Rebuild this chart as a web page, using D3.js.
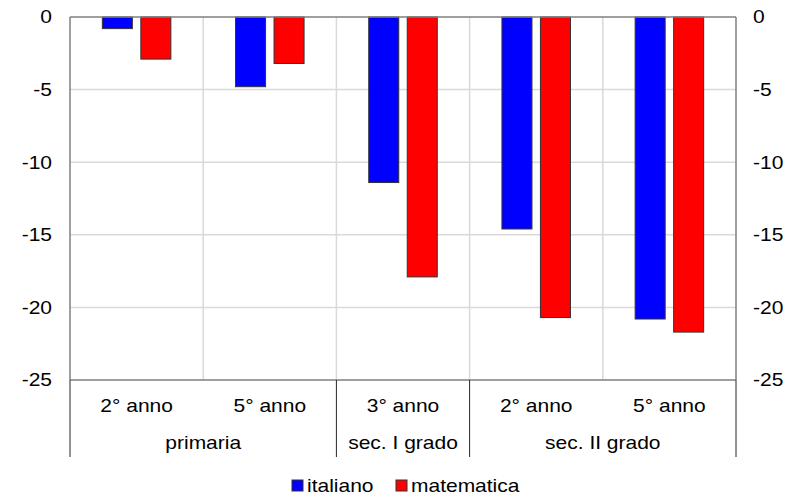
<!DOCTYPE html>
<html>
<head>
<meta charset="utf-8">
<script src="https://cdn.jsdelivr.net/npm/d3@7"></script>
<style>
  html, body { margin: 0; padding: 0; background: #fff; }
  svg { display: block; font-family: "Liberation Sans", Arial, sans-serif; }
</style>
</head>
<body>
<svg id="chart" width="798" height="495"></svg>
<script>
// School years and the school level each one belongs to
const categories = ["2° anno", "5° anno", "3° anno", "2° anno", "5° anno"];
const groupNames = ["primaria", "sec. I grado", "sec. II grado"];
const groupSizes = [2, 1, 2];

// Series
const seriesNames = ["italiano", "matematica"];
const seriesColors = ["#0000ff", "#ff0000"];
const italiano = [-0.8, -4.8, -11.4, -14.6, -20.8];
const matematica = [-2.9, -3.2, -17.9, -20.7, -21.7];

// Value axis ticks
const yTicks = [0, -5, -10, -15, -20, -25];

const FONT = 17.5;     // text size
const STRETCH = 1.2;   // horizontal text widening

const svg = d3.select("#chart");
const plotL = 70, plotR = 736, plotT = 17, plotB = 380;

const y = d3.scaleLinear().domain([-25, 0]).range([plotB, plotT]);
const x = d3.scaleBand().domain(d3.range(categories.length)).range([plotL, plotR]).padding(0);
const xs = d3.scaleBand().domain(seriesNames).range([0, x.bandwidth()])
  .paddingInner(0.22).paddingOuter(0.84);

const values = [italiano, matematica];

// horizontal gridlines
svg.append("g").selectAll("line")
  .data(yTicks.filter(t => t !== 0 && t !== -25))
  .join("line")
  .attr("x1", plotL).attr("x2", plotR)
  .attr("y1", d => y(d)).attr("y2", d => y(d))
  .attr("stroke", "#d9d9d9").attr("stroke-width", 1.5);

// vertical gridlines between categories
svg.append("g").selectAll("line")
  .data(d3.range(1, categories.length))
  .join("line")
  .attr("x1", d => x(d)).attr("x2", d => x(d))
  .attr("y1", plotT).attr("y2", plotB)
  .attr("stroke", "#d9d9d9").attr("stroke-width", 1.5);

// bars
const barData = [];
categories.forEach((c, i) => {
  seriesNames.forEach((s, k) => barData.push({ i, s, k, v: values[k][i] }));
});
svg.append("g").selectAll("rect")
  .data(barData)
  .join("rect")
  .attr("x", d => x(d.i) + xs(d.s))
  .attr("width", xs.bandwidth())
  .attr("y", d => y(Math.max(0, d.v)))
  .attr("height", d => Math.abs(y(d.v) - y(0)))
  .attr("fill", d => seriesColors[d.k])
  .attr("stroke", "#333")
  .attr("stroke-width", 1);

// frame lines
const frame = svg.append("g").attr("stroke", "#7f7f7f").attr("stroke-width", 1.5);
frame.append("line").attr("x1", plotL).attr("x2", plotR).attr("y1", y(0)).attr("y2", y(0));
frame.append("line").attr("x1", plotL).attr("x2", plotR).attr("y1", plotB).attr("y2", plotB);
frame.append("line").attr("x1", plotL).attr("x2", plotL).attr("y1", plotT).attr("y2", plotB);
frame.append("line").attr("x1", plotR).attr("x2", plotR).attr("y1", plotT).attr("y2", plotB);

// value axes (plain hyphen for negative numbers)
const fmt = d => String(d);
function styleAxis(g, dx, anchor) {
  g.select(".domain").remove();
  g.selectAll(".tick line").remove();
  g.selectAll(".tick text")
    .attr("x", null).attr("dy", null)
    .attr("dominant-baseline", "central")
    .attr("text-anchor", anchor)
    .attr("font-size", FONT)
    .attr("font-family", "Liberation Sans, Arial, sans-serif")
    .attr("fill", "#000")
    .attr("transform", `translate(${dx},0) scale(${STRETCH},1)`);
}
svg.append("g").attr("transform", `translate(${plotL},0)`)
  .call(d3.axisLeft(y).tickValues(yTicks).tickFormat(fmt))
  .call(g => styleAxis(g, -18, "end"));
svg.append("g").attr("transform", `translate(${plotR},0)`)
  .call(d3.axisRight(y).tickValues(yTicks).tickFormat(fmt))
  .call(g => styleAxis(g, 17, "start"));

// category labels
function stretchedText(g, tx, ty, str, anchor) {
  g.append("text")
    .attr("transform", `translate(${tx},${ty}) scale(${STRETCH},1)`)
    .attr("text-anchor", anchor)
    .attr("font-size", FONT)
    .attr("fill", "#000")
    .text(str);
}
const labels = svg.append("g");
categories.forEach((c, i) => stretchedText(labels, x(i) + x.bandwidth() / 2, 412, c, "middle"));

// group labels and separators
const sep = svg.append("g").attr("stroke", "#262626").attr("stroke-width", 1);
let start = 0;
sep.append("line").attr("x1", plotL).attr("x2", plotL).attr("y1", plotB).attr("y2", 457);
groupNames.forEach((gname, j) => {
  const end = start + groupSizes[j];
  const x0 = x(start), x1 = end < categories.length ? x(end) : plotR;
  sep.append("line").attr("x1", x1).attr("x2", x1).attr("y1", plotB).attr("y2", 457);
  stretchedText(labels, (x0 + x1) / 2, 449, gname, "middle");
  start = end;
});

// legend
const legendX = [292, 396];
const legend = svg.append("g");
seriesNames.forEach((s, k) => {
  legend.append("rect")
    .attr("x", legendX[k]).attr("y", 480).attr("width", 11).attr("height", 11)
    .attr("fill", seriesColors[k]).attr("stroke", "#333").attr("stroke-width", 1);
  stretchedText(legend, legendX[k] + 15, 492, s, "start");
});
</script>
</body>
</html>
